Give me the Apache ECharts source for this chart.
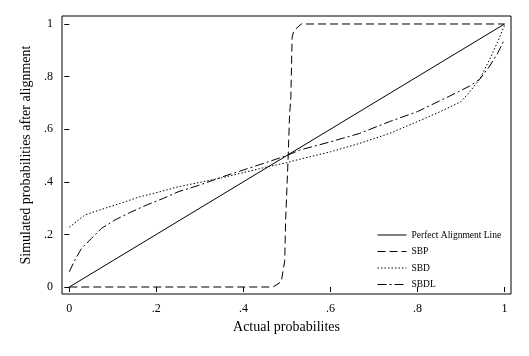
<!DOCTYPE html>
<html>
<head>
<meta charset="utf-8">
<script src="https://cdn.jsdelivr.net/npm/echarts@6/dist/echarts.min.js"></script>
<style>html,body{margin:0;padding:0;background:#fff;}#c{width:529px;height:356px;}</style>
</head>
<body>
<div id="c"></div>
<script>
var seriesNames = ['Perfect Alignment Line', 'SBP', 'SBD', 'SBDL'];
var tickValues = [0, 0.2, 0.4, 0.6, 0.8, 1];

var perfectX = [0, 1];
var perfectY = [0, 1];

var sbpX = [0, 0.468, 0.487, 0.495, 0.497, 0.503, 0.506, 0.509, 0.512, 0.516, 0.533, 1];
var sbpY = [0, 0, 0.02, 0.1, 0.25, 0.5, 0.65, 0.72, 0.95, 0.975, 1, 1];

var sbdX = [0, 0.036, 0.07, 0.117, 0.162, 0.208, 0.25, 0.3, 0.35, 0.4, 0.45, 0.5, 0.53, 0.6, 0.667, 0.736, 0.8, 0.85, 0.9, 0.92, 0.943, 0.966, 0.985, 1];
var sbdY = [0.227, 0.274, 0.293, 0.318, 0.343, 0.362, 0.381, 0.398, 0.415, 0.435, 0.455, 0.473, 0.486, 0.514, 0.546, 0.584, 0.629, 0.665, 0.705, 0.742, 0.79, 0.866, 0.935, 0.995];

var sbdlX = [0, 0.013, 0.028, 0.051, 0.074, 0.105, 0.139, 0.178, 0.216, 0.25, 0.3, 0.35, 0.4, 0.45, 0.5, 0.53, 0.6, 0.667, 0.736, 0.8, 0.874, 0.92, 0.943, 0.966, 0.985, 1];
var sbdlY = [0.058, 0.103, 0.147, 0.185, 0.223, 0.255, 0.283, 0.312, 0.337, 0.362, 0.388, 0.418, 0.445, 0.472, 0.5, 0.521, 0.552, 0.584, 0.629, 0.667, 0.726, 0.764, 0.79, 0.84, 0.891, 0.942];

function zip(xs, ys) { return xs.map(function (x, i) { return [x, ys[i]]; }); }
function fmt(v) {
  var r = Math.round(v * 10) / 10;
  if (r === 0) return '0';
  if (r === 1) return '1';
  return String(r).replace(/^0/, '');
}

var font = '"Liberation Serif", "Times New Roman", serif';
var chart = echarts.init(document.getElementById('c'), null, {renderer: 'canvas'});

function mk(name, data, type) {
  return {
    name: name, type: 'line', data: data, symbol: 'none', showSymbol: false,
    animation: false, silent: true,
    lineStyle: {color: '#000', width: 1, type: type},
    itemStyle: {color: '#000'}
  };
}

chart.setOption({
  animation: false,
  backgroundColor: '#fff',
  grid: {left: 62, top: 16, right: 18, bottom: 62, show: true, borderColor: '#000', borderWidth: 1, containLabel: false},
  xAxis: {
    type: 'value', min: -0.0168, max: 1.0149,
    name: 'Actual probabilites', nameLocation: 'middle', nameGap: 23,
    nameTextStyle: {fontFamily: font, fontSize: 14, color: '#000'},
    axisLine: {show: false},
    axisTick: {show: true, length: 5, customValues: tickValues, lineStyle: {color: '#000'}},
    axisLabel: {customValues: tickValues, formatter: fmt, margin: 9, fontFamily: font, fontSize: 12, color: '#000'},
    splitLine: {show: false}
  },
  yAxis: {
    type: 'value', min: -0.0266, max: 1.0304,
    name: 'Simulated probabilities after alignment', nameLocation: 'middle', nameGap: 26, nameRotate: 90,
    nameTextStyle: {fontFamily: font, fontSize: 14, color: '#000'},
    axisLine: {show: false},
    axisTick: {show: true, length: 5, customValues: tickValues, lineStyle: {color: '#000'}},
    axisLabel: {customValues: tickValues, formatter: fmt, margin: 9, fontFamily: font, fontSize: 12, color: '#000'},
    splitLine: {show: false}
  },
  legend: {
    orient: 'vertical', left: 372, top: 225,
    itemWidth: 29, itemHeight: 10, itemGap: 6.5,
    itemStyle: {opacity: 0},
    lineStyle: {width: 1},
    textStyle: {fontFamily: font, fontSize: 9.5, color: '#000'},
    data: seriesNames, selectedMode: false
  },
  series: [
    mk(seriesNames[0], zip(perfectX, perfectY), 'solid'),
    mk(seriesNames[1], zip(sbpX, sbpY), [8, 4]),
    mk(seriesNames[2], zip(sbdX, sbdY), [1.5, 2]),
    mk(seriesNames[3], zip(sbdlX, sbdlY), [9, 3, 2, 3])
  ]
});
</script>
</body>
</html>
